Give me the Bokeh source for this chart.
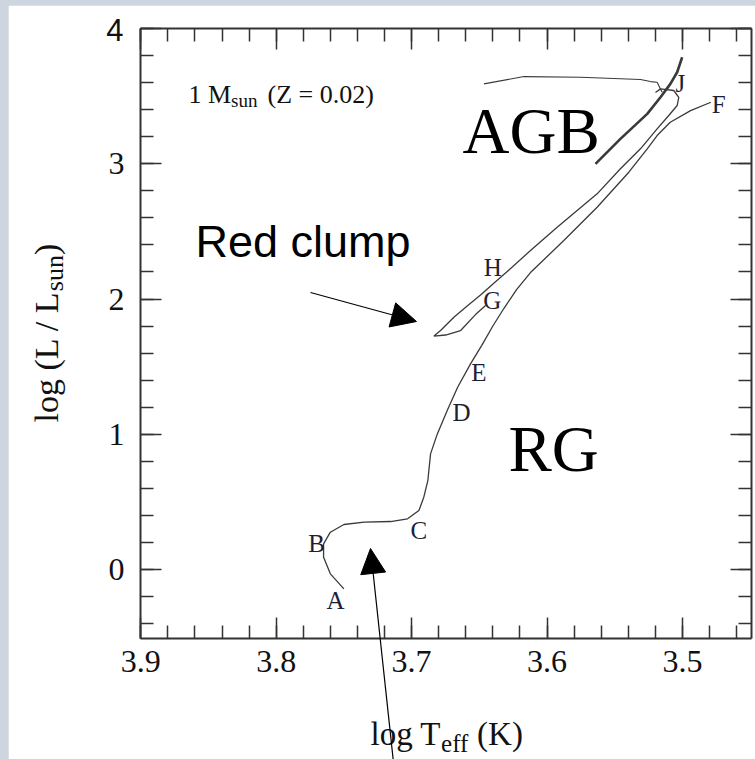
from bokeh.plotting import figure
from bokeh.models import Range1d, LinearAxis, SingleIntervalTicker, Label, Arrow, NormalHead, ColumnDataSource
from bokeh.layouts import column
from bokeh.embed import file_html
from bokeh.resources import INLINE
from bokeh.core.properties import value

# ---------------- data ----------------
# main sequence -> subgiant -> red giant branch (A ... F)
ms_rgb_logT = [3.750, 3.760, 3.765, 3.765, 3.760, 3.750, 3.735, 3.7155, 3.703, 3.6946,
               3.691, 3.688, 3.686, 3.681, 3.6737, 3.666, 3.6565, 3.6483, 3.6402, 3.6319,
               3.6225, 3.6122, 3.5876, 3.563, 3.5396, 3.526, 3.5187, 3.509, 3.494, 3.479]
ms_rgb_logL = [-0.143, -0.032, 0.091, 0.190, 0.276, 0.333, 0.350, 0.355, 0.375, 0.436,
               0.535, 0.658, 0.855, 1.003, 1.176, 1.348, 1.521, 1.656, 1.797, 1.930,
               2.070, 2.196, 2.433, 2.679, 2.938, 3.111, 3.209, 3.307, 3.393, 3.455]

# horizontal branch / red clump loop -> early AGB (G ... H ... loop near J)
hb_logT = [3.6454, 3.6528, 3.6638, 3.6749, 3.6835, 3.6786, 3.6688, 3.6594, 3.6491, 3.6395,
           3.6294, 3.6122, 3.5925, 3.563, 3.5458, 3.531, 3.5187, 3.5101, 3.5039, 3.5027,
           3.5064, 3.5162, 3.5199]
hb_logL = [1.952, 1.885, 1.767, 1.734, 1.726, 1.767, 1.865, 1.945, 2.030, 2.115,
           2.203, 2.359, 2.531, 2.778, 2.963, 3.111, 3.258, 3.357, 3.431, 3.492,
           3.542, 3.554, 3.527]

# thermally pulsing AGB (thick part, up to J)
agb_logT = [3.5642, 3.5458, 3.526, 3.5162, 3.5089, 3.5039, 3.5002]
agb_logL = [3.000, 3.184, 3.369, 3.492, 3.591, 3.677, 3.788]

# post-AGB excursion
pagb_logT = [3.515, 3.5187, 3.5236, 3.531, 3.5753, 3.6171, 3.6466]
pagb_logL = [3.529, 3.603, 3.608, 3.623, 3.640, 3.645, 3.591]

# evolutionary points
point_names = ["A", "B", "C", "D", "E", "F", "G", "H", "J"]
point_logT = [3.7561, 3.7701, 3.6946, 3.6631, 3.6503, 3.4732, 3.6404, 3.6400, 3.5015]
point_logL = [-0.229, 0.194, 0.288, 1.163, 1.459, 3.436, 1.989, 2.235, 3.591]

# ---------------- main figure ----------------
X_LEFT, X_RIGHT = 3.9002, 3.449
Y_BOT, Y_TOP = -0.51, 4.0005
SERIF = "Liberation Serif"
SANS = "Liberation Sans"
INK = "#333333"

fig = figure(width=747, height=754,
             x_range=Range1d(X_LEFT, X_RIGHT), y_range=Range1d(Y_BOT, Y_TOP),
             x_axis_type=None, y_axis_type=None,
             output_backend="svg", toolbar_location=None,
             min_border_left=132, min_border_right=4, min_border_top=23, min_border_bottom=121,
             margin=(5, 0, 0, 8))
fig.outline_line_color = None
fig.background_fill_color = "white"
fig.border_fill_color = "white"


def make_axis(interval, labels=True):
    ax = LinearAxis(ticker=SingleIntervalTicker(interval=interval, num_minor_ticks=5))
    ax.axis_line_color = INK
    ax.axis_line_width = 2
    ax.major_tick_in = 21
    ax.major_tick_out = 0
    ax.minor_tick_in = 13
    ax.minor_tick_out = 0
    ax.major_tick_line_color = INK
    ax.major_tick_line_width = 1.5
    ax.minor_tick_line_color = INK
    ax.minor_tick_line_width = 1.5
    ax.major_label_text_font = SERIF
    ax.major_label_text_font_size = "32px"
    ax.major_label_text_color = "#111111"
    if not labels:
        ax.major_label_text_font_size = "0px"
        ax.major_label_text_alpha = 0
        ax.major_label_standoff = 0
    return ax


bottom = make_axis(0.1)
bottom.major_label_standoff = 12
left = make_axis(1)
left.major_label_standoff = 16
left.major_label_overrides = {4: ""}
fig.add_layout(bottom, "below")
fig.add_layout(left, "left")
fig.add_layout(make_axis(0.1, labels=False), "above")
fig.add_layout(make_axis(1, labels=False), "right")

# track
for xs, ys, lw in [(ms_rgb_logT, ms_rgb_logL, 1.3), (hb_logT, hb_logL, 1.3),
                   (agb_logT, agb_logL, 2.6), (pagb_logT, pagb_logL, 1.1)]:
    fig.line(xs, ys, line_color="#3a3a3a", line_width=lw)

pts = ColumnDataSource(dict(x=point_logT, y=point_logL, t=point_names))
fig.text(x="x", y="y", text="t", source=pts, text_font=value(SERIF), text_font_size="25px",
         text_align="center", text_baseline="middle", text_color="#1e1e36")


# helpers: reference-page pixel -> data coordinates (annotation placement inside the frame)
def X(px):
    return X_LEFT + (px - 140) * (X_RIGHT - X_LEFT) / 611.0


def Y(py):
    return Y_TOP + (py - 28) * (Y_BOT - Y_TOP) / 610.0


def add_text(target, x, y, text, size, font=SERIF, angle=0, align="left", color="#111111"):
    target.add_layout(Label(x=x, y=y, text=text, text_font=font, text_font_size=f"{size}px",
                            text_align=align, text_baseline="middle", angle=angle, angle_units="deg",
                            text_color=color))


# inner annotations (y given as the vertical middle of the text)
add_text(fig, X(188), Y(94.2), "1 M", 26)
add_text(fig, X(230.6), Y(99.6), "sun", 19)
add_text(fig, X(267), Y(94.2), "(Z = 0.02)", 26)

add_text(fig, X(195), Y(241.4), "Red clump", 45, font=SANS, color="#000000")
add_text(fig, X(462), Y(130.1), "AGB", 65, color="#000000")
add_text(fig, X(508), Y(448.1), "RG", 65, color="#000000")

fig.add_layout(Arrow(end=NormalHead(size=25, fill_color="black", line_color="black"),
                     x_start=X(310), y_start=Y(292), x_end=X(416), y_end=Y(321),
                     line_color="black", line_width=1.2))

# ---------------- transparent overlay for texts/marks outside the frame ----------------
ov = figure(width=755, height=759, x_range=Range1d(0, 755), y_range=Range1d(759, 0),
            x_axis_type=None, y_axis_type=None, output_backend="svg", toolbar_location=None,
            min_border_left=0, min_border_right=0, min_border_top=0, min_border_bottom=0,
            styles={"position": "absolute", "left": "0px", "top": "0px"})
ov.outline_line_color = None
ov.background_fill_alpha = 0
ov.border_fill_alpha = 0

for f in (fig, ov):
    if hasattr(f, "frame_align"):
        f.frame_align = False

# sans "4" tick label
add_text(ov, 123, 29, "4", 31, font=SANS, align="right")

# axis titles
add_text(ov, 370, 733.9, "log T", 33)
add_text(ov, 440.6, 742.6, "eff", 25)
add_text(ov, 476.6, 733.9, "(K)", 33)

add_text(ov, 45.9, 422, "log (L / L", 34, angle=90)
add_text(ov, 53.6, 290.7, "sun", 26, angle=90)
add_text(ov, 45.9, 254.6, ")", 34, angle=90)

ov.add_layout(Arrow(end=NormalHead(size=25, fill_color="black", line_color="black"),
                    x_start=393, y_start=762, x_end=370, y_end=548,
                    line_color="black", line_width=1.2))

p = column(fig, ov, styles={"background-color": "#cdd6de"})

open("out.html", "w").write(file_html(p, INLINE))
